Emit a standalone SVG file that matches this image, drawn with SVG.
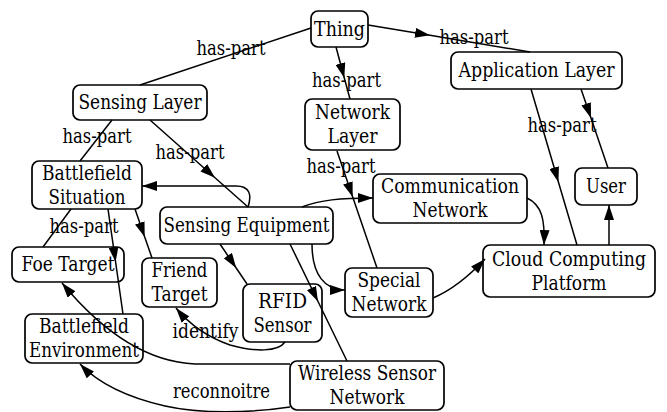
<svg xmlns="http://www.w3.org/2000/svg" width="667" height="412" viewBox="0 0 667 412">
<style>
.n rect{fill:none;stroke:#000;stroke-width:1.7}
text{font-family:'DejaVu Serif','Liberation Serif','Times New Roman',serif;font-size:19.5px;fill:#000;text-anchor:middle}
.e path{fill:none;stroke:#000;stroke-width:1.5}
.m{marker-mid:url(#ah)}
.t{marker-end:url(#ah)}
</style>
<defs>
<marker id="ah" viewBox="0 0 15 10" refX="15" refY="5" markerUnits="userSpaceOnUse" markerWidth="15" markerHeight="10" orient="auto">
<path d="M0,0 L15,5 L0,10 z" fill="#000"/>
</marker>
</defs>
<rect width="667" height="412" fill="#fff"/>
<g id="edges" class="e">
<path d="M311,28 L140,85"/>
<path class="m" d="M336,47 L344.3,78 L350,99"/>
<path class="m" d="M368,25 L430,35.3 L530,52"/>
<path class="m" d="M531,89 L558.4,182 L577,245"/>
<path class="m" d="M581,89 L591,118 L608,168"/>
<path class="t" d="M609,245 L609,205"/>
<path class="m" d="M337,151 L352.7,197 L377,268"/>
<path d="M112,120 L80,161"/>
<path class="m" d="M150,120 L215,177.7 L248,207"/>
<path class="t" d="M248,207 C252,195 250,186 236,186 L142,186"/>
<path class="t" d="M302,207 C320,200 340,198 373,198"/>
<path class="m" d="M220,244 L236.2,268 L247,284"/>
<path class="m" d="M290,244 L318,301.5 L347,361"/>
<path class="t" d="M312,244 C312,275 325,290 345,290"/>
<path class="t" d="M527,198 C542,205 545,220 544,245"/>
<path class="t" d="M433,298 C452,290 470,275 485,259"/>
<path d="M71,209 L43,247"/>
<path class="m" d="M108,209 L115.6,262 L123,314"/>
<path class="m" d="M135,209 L144.7,237 L152,258"/>
<path class="t" d="M285,342 C278,352 255,352 230,345 C210,338 190,325 176,308"/>
<path class="t" d="M290,364 L195,364 C150,362 105,335 62,283"/>
<path class="t" d="M290,407 C250,413 200,414 165,406 C130,398 100,385 80,364"/>
<text x="231" y="55" textLength="69" lengthAdjust="spacingAndGlyphs">has-part</text>
<text x="346.5" y="87" textLength="69" lengthAdjust="spacingAndGlyphs">has-part</text>
<text x="474" y="44" textLength="69" lengthAdjust="spacingAndGlyphs">has-part</text>
<text x="562" y="132" textLength="69" lengthAdjust="spacingAndGlyphs">has-part</text>
<text x="341" y="173" textLength="69" lengthAdjust="spacingAndGlyphs">has-part</text>
<text x="97" y="143" textLength="69" lengthAdjust="spacingAndGlyphs">has-part</text>
<text x="190" y="159" textLength="69" lengthAdjust="spacingAndGlyphs">has-part</text>
<text x="84" y="233" textLength="69" lengthAdjust="spacingAndGlyphs">has-part</text>
<text x="205.5" y="338" textLength="66" lengthAdjust="spacingAndGlyphs">identify</text>
<text x="221.5" y="398" textLength="97" lengthAdjust="spacingAndGlyphs">reconnoitre</text>
</g>
<g id="thing" class="n"><rect x="311" y="11" width="57" height="36" rx="7"/><text x="339.5" y="35.5" textLength="51" lengthAdjust="spacingAndGlyphs">Thing</text></g>
<g id="application-layer" class="n"><rect x="451" y="52" width="171" height="37" rx="7"/><text x="536.5" y="77" textLength="156" lengthAdjust="spacingAndGlyphs">Application Layer</text></g>
<g id="sensing-layer" class="n"><rect x="73" y="85" width="134" height="35" rx="7"/><text x="140" y="109" textLength="123" lengthAdjust="spacingAndGlyphs">Sensing Layer</text></g>
<g id="network-layer" class="n"><rect x="305" y="99" width="95" height="51" rx="7"/><text x="352.5" y="119" textLength="75" lengthAdjust="spacingAndGlyphs">Network</text><text x="352.5" y="143" textLength="50" lengthAdjust="spacingAndGlyphs">Layer</text></g>
<g id="user" class="n"><rect x="575" y="168" width="62" height="37" rx="7"/><text x="606" y="193" textLength="40" lengthAdjust="spacingAndGlyphs">User</text></g>
<g id="battlefield-situation" class="n"><rect x="32" y="161" width="110" height="48" rx="7"/><text x="87" y="179.5" textLength="90" lengthAdjust="spacingAndGlyphs">Battlefield</text><text x="87" y="203.5" textLength="77" lengthAdjust="spacingAndGlyphs">Situation</text></g>
<g id="communication-network" class="n"><rect x="373" y="174" width="154" height="49" rx="7"/><text x="450" y="193" textLength="138" lengthAdjust="spacingAndGlyphs">Communication</text><text x="450" y="217" textLength="75" lengthAdjust="spacingAndGlyphs">Network</text></g>
<g id="sensing-equipment" class="n"><rect x="160" y="207" width="173" height="37" rx="7"/><text x="246.5" y="232" textLength="166" lengthAdjust="spacingAndGlyphs">Sensing Equipment</text></g>
<g id="cloud-computing-platform" class="n"><rect x="483" y="245" width="172" height="52" rx="7"/><text x="569" y="265.5" textLength="154" lengthAdjust="spacingAndGlyphs">Cloud Computing</text><text x="569" y="289.5" textLength="75" lengthAdjust="spacingAndGlyphs">Platform</text></g>
<g id="foe-target" class="n"><rect x="12" y="247" width="112" height="35" rx="7"/><text x="68" y="271" textLength="93" lengthAdjust="spacingAndGlyphs">Foe Target</text></g>
<g id="friend-target" class="n"><rect x="142" y="258" width="75" height="49" rx="7"/><text x="179.5" y="277" textLength="56" lengthAdjust="spacingAndGlyphs">Friend</text><text x="179.5" y="301" textLength="56" lengthAdjust="spacingAndGlyphs">Target</text></g>
<g id="special-network" class="n"><rect x="345" y="268" width="88" height="49" rx="7"/><text x="389" y="287" textLength="63" lengthAdjust="spacingAndGlyphs">Special</text><text x="389" y="311" textLength="75" lengthAdjust="spacingAndGlyphs">Network</text></g>
<g id="rfid-sensor" class="n"><rect x="243" y="284" width="79" height="58" rx="7"/><text x="282.5" y="307.5" textLength="49" lengthAdjust="spacingAndGlyphs">RFID</text><text x="282.5" y="331.5" textLength="58" lengthAdjust="spacingAndGlyphs">Sensor</text></g>
<g id="battlefield-environment" class="n"><rect x="25" y="314" width="118" height="49" rx="7"/><text x="84" y="333" textLength="90" lengthAdjust="spacingAndGlyphs">Battlefield</text><text x="84" y="357" textLength="110" lengthAdjust="spacingAndGlyphs">Environment</text></g>
<g id="wireless-sensor-network" class="n"><rect x="290" y="361" width="154" height="49" rx="7"/><text x="367" y="380" textLength="138" lengthAdjust="spacingAndGlyphs">Wireless Sensor</text><text x="367" y="404" textLength="75" lengthAdjust="spacingAndGlyphs">Network</text></g>
</svg>
